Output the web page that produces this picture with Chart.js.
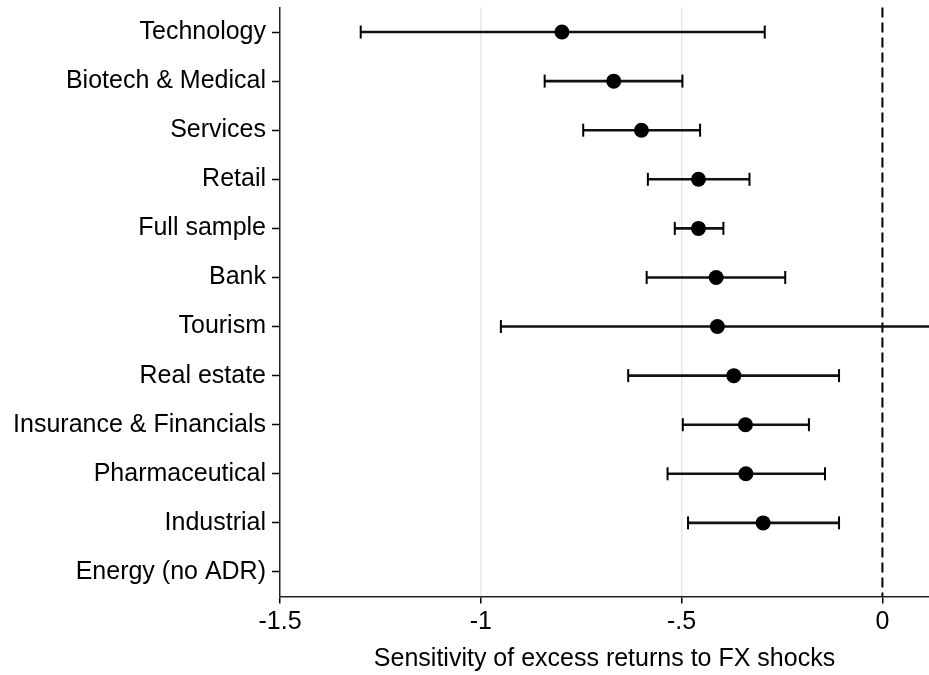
<!DOCTYPE html>
<html>
<head>
<meta charset="utf-8">
<script src="https://cdn.jsdelivr.net/npm/chart.js@4"></script>
<style>
  html, body { margin: 0; padding: 0; background: #fff; }
  #wrap { width: 929px; height: 675px; }
</style>
</head>
<body>
<div id="wrap"><canvas id="fxChart"></canvas></div>
<script>
// sectors, top to bottom
const sectors = ['Technology', 'Biotech & Medical', 'Services', 'Retail', 'Full sample', 'Bank',
    'Tourism', 'Real estate', 'Insurance & Financials', 'Pharmaceutical', 'Industrial', 'Energy (no ADR)'];
// point estimates and confidence bounds (Energy has no estimate)
const estimates = [-0.798, -0.669, -0.600, -0.458, -0.458, -0.414, -0.411, -0.370, -0.341, -0.340, -0.297, null];
const lowerBounds = [-1.299, -0.841, -0.745, -0.584, -0.517, -0.587, -0.950, -0.633, -0.497, -0.535, -0.484, null];
const upperBounds = [-0.293, -0.498, -0.454, -0.331, -0.396, -0.242, 0.128, -0.108, -0.183, -0.143, -0.108, null];
const xTicks = [-1.5, -1, -0.5, 0];
const xTickLabels = ['-1.5', '-1', '-.5', '0'];

const FONT = 'Arial, "Liberation Sans", Helvetica, sans-serif';

// caps on the error bars + dashed zero line
const errorBarExtras = {
    id: 'errorBarExtras',
    beforeDatasetsDraw(chart) {
        const { ctx, chartArea, scales } = chart;
        const x0 = scales.x.getPixelForValue(0);
        ctx.save();
        ctx.strokeStyle = '#000';
        ctx.lineWidth = 2;
        ctx.setLineDash([10, 5]);
        ctx.beginPath();
        ctx.moveTo(x0, chartArea.top);
        ctx.lineTo(x0, chartArea.bottom);
        ctx.stroke();
        ctx.restore();
    },
    afterDatasetsDraw(chart) {
        const { ctx, chartArea, scales } = chart;
        ctx.save();
        ctx.strokeStyle = '#000';
        ctx.lineWidth = 2;
        sectors.forEach((s, i) => {
            if (lowerBounds[i] === null) return;
            const y = scales.y.getPixelForValue(i);
            [lowerBounds[i], upperBounds[i]].forEach(v => {
                const x = scales.x.getPixelForValue(v);
                if (x < chartArea.left || x > chartArea.right) return;
                ctx.beginPath();
                ctx.moveTo(x, y - 6.5);
                ctx.lineTo(x, y + 6.5);
                ctx.stroke();
            });
        });
        ctx.restore();
    }
};

new Chart(document.getElementById('fxChart'), {
    type: 'bar',
    data: {
        labels: sectors,
        datasets: [{
            type: 'line',
            indexAxis: 'y',
            data: estimates,
            showLine: false,
            pointRadius: 7.5,
            pointBackgroundColor: '#000',
            pointBorderColor: '#000',
            pointBorderWidth: 0,
            order: 0
        }, {
            data: sectors.map((s, i) => lowerBounds[i] === null ? null : [lowerBounds[i], upperBounds[i]]),
            backgroundColor: '#111',
            borderWidth: 0,
            barThickness: 2,
            order: 1
        }]
    },
    options: {
        indexAxis: 'y',
        responsive: true,
        maintainAspectRatio: false,
        animation: false,
        layout: { autoPadding: false, padding: { top: 7.5, right: 0, left: 0, bottom: 0 } },
        plugins: {
            legend: { display: false },
            tooltip: { enabled: false }
        },
        scales: {
            x: {
                type: 'linear',
                min: -1.5,
                max: 0.116,
                afterBuildTicks: axis => { axis.ticks = xTicks.map(v => ({ value: v })); },
                afterFit: axis => {
                    axis.height = 78.5;
                    axis.paddingLeft = 0;
                    axis.paddingRight = 0;
                },
                ticks: {
                    color: '#000',
                    font: { family: FONT, size: 25 },
                    padding: 4,
                    callback: (v) => xTickLabels[xTicks.indexOf(v)]
                },
                grid: {
                    color: c => (c.tick && (c.tick.value === -1 || c.tick.value === -0.5)) ? '#e8e8e8' : 'rgba(0,0,0,0)',
                    lineWidth: 1.5,
                    tickColor: '#000',
                    tickLength: 7,
                    tickWidth: 1.5
                },
                border: { color: '#222', width: 1.5 },
                title: {
                    display: true,
                    text: 'Sensitivity of excess returns to FX shocks',
                    color: '#000',
                    font: { family: FONT, size: 25 },
                    padding: { top: 7, bottom: 1 }
                }
            },
            y: {
                type: 'category',
                offset: true,
                afterFit: axis => {
                    axis.width = 280;
                    axis.paddingTop = 0;
                    axis.paddingBottom = 0;
                },
                ticks: {
                    color: '#000',
                    font: { family: FONT, size: 25 },
                    padding: 6
                },
                grid: {
                    offset: false,
                    drawOnChartArea: false,
                    tickColor: '#000',
                    tickLength: 8,
                    tickWidth: 1.5
                },
                border: { color: '#222', width: 1.5 }
            }
        }
    },
    plugins: [errorBarExtras]
});
</script>
</body>
</html>
